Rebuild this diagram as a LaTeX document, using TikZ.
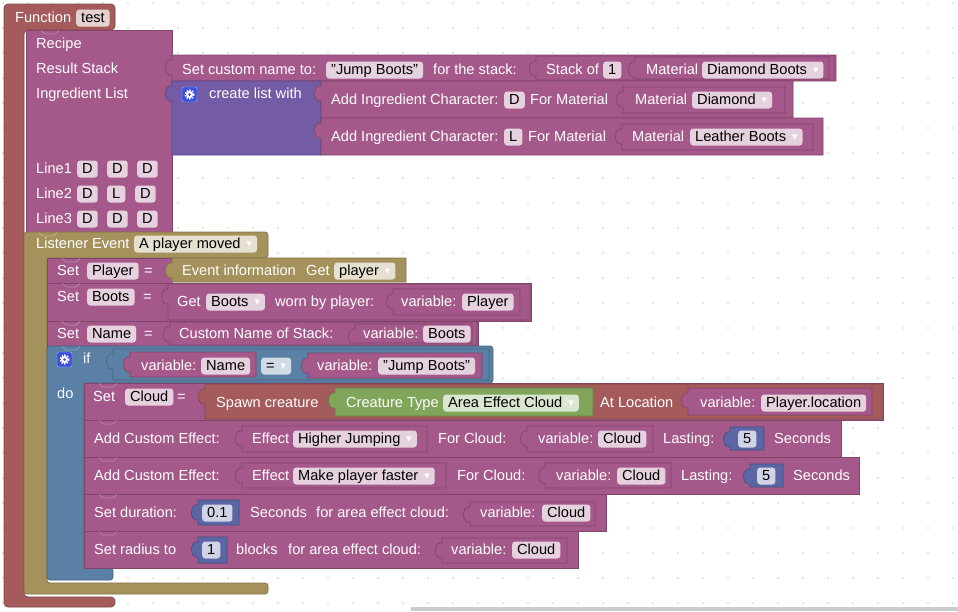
\documentclass[tikz,border=0pt]{standalone}
\usepackage{fontspec}
\setmainfont{Liberation Sans}
\newfontfamily\symfont{DejaVu Sans}
\usetikzlibrary{positioning}

\definecolor{fnred}{RGB}{165,91,91}
\definecolor{pinkc}{RGB}{165,89,138}
\definecolor{listc}{RGB}{116,91,165}
\definecolor{olivec}{RGB}{165,145,91}
\definecolor{bluec}{RGB}{91,128,165}
\definecolor{numc}{RGB}{91,103,165}
\definecolor{greenc}{RGB}{128,165,91}
\definecolor{gearc}{RGB}{60,80,220}
\definecolor{dotc}{RGB}{205,205,205}
\definecolor{barc}{RGB}{204,204,204}

\newcommand{\dd}{\hspace{6pt}{\symfont\fontsize{7}{7}\selectfont\color{white}\raisebox{1.5pt}{▼}}\hspace{3pt}}
\newcommand{\sblk}[5]{\filldraw[#1] (#2,#3) rectangle (#4,#5);}
\newcommand{\vblk}[5]{\filldraw[#1] (#2,#3) -- (#4,#3) -- (#4,#5) -- (#2,#5) -- (#2,#3+20) -- (#2-2,#3+20) .. controls (#2-8,#3+19) and (#2-8,#3+6) .. (#2-2,#3+5) -- (#2,#3+5) -- cycle;}
\newcommand{\notch}[3]{\draw[nch=#1] (#2+15,#3+0.5) -- (#2+19,#3+4) -- (#2+29,#3+4) -- (#2+33,#3+0.5);}
\newcommand{\gear}[3]{\filldraw[fill=gearc, draw=white!60!gearc, rounded corners=2pt] (#2,#3) rectangle ++(15,15);
  \coordinate (#1) at (#2+7.5,#3+7.5);
  \draw[white, line width=1.6pt, dash pattern=on 1.4pt off 1.4pt] (#1) circle[radius=4.3];
  \fill[white] (#1) circle[radius=3.6];
  \fill[gearc] (#1) circle[radius=1.5];}

\begin{document}
\begin{tikzpicture}[x=1pt, y=-1pt,
    font=\fontsize{14.6}{17}\selectfont,
    lbl/.style={anchor=base west, inner sep=0pt, text=white},
    fld/.style={anchor=base west, inner xsep=5pt, inner ysep=0pt, text height=12.5pt, text depth=4.5pt, rounded corners=3pt, fill=#1!28!white, text=black},
    blk/.style={fill=#1, draw=#1!78!black, line width=0.7pt},
    nch/.style={draw=#1!72!white, line width=0.7pt}
  ]

  \useasboundingbox (0,0) rectangle (958,611);
  \foreach \i in {0,...,38} \foreach \j in {0,...,24} \fill[dotc] (3+25*\i,3+25*\j) circle[radius=0.9];
  \fill[barc] (411,607) rectangle (958,611);

  \filldraw[blk=fnred, rounded corners=4pt] (4,4) -- (115,4) -- (115,30) -- (24,30) -- (24,597) -- (115,597) -- (115,607) -- (4,607) -- cycle;
  \node[lbl] (fn) at (15,22) {Function};
  \node[fld=fnred] (fnname) at (76,22) {test};

  \sblk{blk=pinkc}{26}{30}{172}{232}
  \notch{pinkc}{26}{30}
  \node[lbl] (rcp) at (36,48) {Recipe};
  \node[lbl] (rstack) at (36,73) {Result Stack};
  \node[lbl] (ilist) at (36,98) {Ingredient List};
  \node[lbl] (ln1) at (36,173) {Line1};
  \node[fld=pinkc] (ln1a) at (77,173) {D};
  \node[fld=pinkc] (ln1b) at (107,173) {D};
  \node[fld=pinkc] (ln1c) at (137,173) {D};
  \node[lbl] (ln2) at (36,198) {Line2};
  \node[fld=pinkc] (ln2a) at (77,198) {D};
  \node[fld=pinkc] (ln2b) at (107,198) {L};
  \node[fld=pinkc] (ln2c) at (135,198) {D};
  \node[lbl] (ln3) at (36,223) {Line3};
  \node[fld=pinkc] (ln3a) at (77,223) {D};
  \node[fld=pinkc] (ln3b) at (107,223) {D};
  \node[fld=pinkc] (ln3c) at (137,223) {D};

  \vblk{blk=pinkc}{172}{55}{836}{81}
  \node[lbl] (scn) at (182,74) {Set custom name to:};
  \node[fld=pinkc] (jb1) at (326,74) {"Jump Boots"};
  \node[lbl] (fts) at (433,74) {for the stack:};
  \vblk{blk=pinkc}{536}{56}{834}{80}
  \node[lbl] (sof) at (546,74) {Stack of};
  \node[fld=pinkc] (amt) at (603,74) {1};
  \vblk{blk=pinkc}{635}{57}{829}{79}
  \node[lbl] (mat1) at (646,74) {Material};
  \node[fld=pinkc] (dboots) at (702,74) {Diamond Boots\dd};

  \vblk{blk=listc}{172}{81}{321}{155}
  \gear{g1}{182}{87}
  \node[lbl] (cl) at (209,98) {create list with};

  \vblk{blk=pinkc}{321}{81}{793}{118}
  \node[lbl] (ai1) at (331,104) {Add Ingredient Character:};
  \node[fld=pinkc] (ch1) at (504,104) {D};
  \node[lbl] (fm1) at (530,104) {For Material};
  \vblk{blk=pinkc}{623}{87}{785}{113}
  \node[lbl] (mat2) at (635,104) {Material};
  \node[fld=pinkc] (dia) at (692,104) {Diamond\dd};

  \vblk{blk=pinkc}{321}{118}{823}{155}
  \node[lbl] (ai2) at (331,141) {Add Ingredient Character:};
  \node[fld=pinkc] (ch2) at (504,141) {L};
  \node[lbl] (fm2) at (528,141) {For Material};
  \vblk{blk=pinkc}{622}{124}{813}{150}
  \node[lbl] (mat3) at (632,141) {Material};
  \node[fld=pinkc] (lboots) at (690,141) {Leather Boots\dd};

  \filldraw[blk=olivec, rounded corners=3pt] (24,232) -- (268,232) -- (268,258) -- (47,258) -- (47,583) -- (268,583) -- (268,594) -- (24,594) -- cycle;
  \notch{olivec}{24}{232}
  \node[lbl] (lev) at (36,248) {Listener Event};
  \node[fld=olivec] (pm) at (134,248) {A player moved\dd};

  \sblk{blk=pinkc}{47}{258}{172}{283}
  \notch{pinkc}{47}{258}
  \node[lbl] (set1) at (57,275) {Set};
  \node[fld=pinkc] (vplayer) at (87,275) {Player};
  \node[lbl] (eq1) at (144,275) {=};
  \vblk{blk=olivec}{172}{258}{406}{282}
  \node[lbl] (evi) at (182,275) {Event information};
  \node[lbl] (get1) at (306,275) {Get};
  \node[fld=olivec] (gplayer) at (334,275) {player\dd};

  \sblk{blk=pinkc}{47}{283}{531}{321}
  \notch{pinkc}{47}{283}
  \node[lbl] (set2) at (57,301) {Set};
  \node[fld=pinkc] (vboots) at (87,301) {Boots};
  \node[lbl] (eq2) at (143,301) {=};
  \vblk{blk=pinkc}{168}{284}{530}{320}
  \node[lbl] (get2) at (177,306) {Get};
  \node[fld=pinkc] (gboots) at (206,306) {Boots\dd};
  \node[lbl] (worn) at (275,306) {worn by player:};
  \vblk{blk=pinkc}{393}{289}{520}{315}
  \node[lbl] (var1) at (401,306) {variable:};
  \node[fld=pinkc] (var1f) at (462,306) {Player};

  \sblk{blk=pinkc}{47}{321}{478}{346}
  \notch{pinkc}{47}{321}
  \node[lbl] (set3) at (57,338) {Set};
  \node[fld=pinkc] (vname) at (87,338) {Name};
  \node[lbl] (eq3) at (144,338) {=};
  \vblk{blk=pinkc}{170}{322}{477}{345}
  \node[lbl] (cns) at (179,338) {Custom Name of Stack:};
  \vblk{blk=pinkc}{355}{324}{472}{343}
  \node[lbl] (var2) at (363,338) {variable:};
  \node[fld=pinkc] (var2f) at (423,338) {Boots};

  \filldraw[blk=bluec, rounded corners=3pt] (47,346) -- (493,346) -- (493,383) -- (84,383) -- (84,568) -- (113,568) -- (113,580) -- (47,580) -- cycle;
  \notch{bluec}{47}{346}
  \gear{g2}{57}{352}
  \node[lbl] (iff) at (83,363) {if};
  \vblk{blk=bluec}{113}{349}{489}{380}
  \vblk{blk=pinkc}{130}{352}{256}{377}
  \node[lbl] (var3) at (141,370) {variable:};
  \node[fld=pinkc] (var3f) at (201,370) {Name};
  \node[fld=bluec] (cmp) at (261,370) {=\dd};
  \vblk{blk=pinkc}{308}{353}{482}{378}
  \node[lbl] (var4) at (317,370) {variable:};
  \node[fld=pinkc] (var4f) at (378,370) {"Jump Boots"};
  \node[lbl] (do) at (57,398) {do};

  \sblk{blk=pinkc}{84}{383}{883}{420}
  \notch{pinkc}{84}{383}
  \node[lbl] (set4) at (93,401) {Set};
  \node[fld=pinkc] (vcloud) at (125,401) {Cloud};
  \node[lbl] (eq4) at (177,401) {=};
  \vblk{blk=fnred}{205}{384}{883}{419}
  \node[lbl] (spawn) at (216,407) {Spawn creature};
  \vblk{blk=greenc}{335}{388}{593}{416}
  \node[lbl] (ctype) at (346,407) {Creature Type};
  \node[fld=greenc] (aec) at (443,407) {Area Effect Cloud\dd};
  \node[lbl] (atloc) at (600,407) {At Location};
  \vblk{blk=pinkc}{688}{388}{872}{415}
  \node[lbl] (var5) at (700,407) {variable:};
  \node[fld=pinkc] (var5f) at (761,407) {Player.location};

  \sblk{blk=pinkc}{84}{420}{841}{457}
  \notch{pinkc}{84}{420}
  \node[lbl] (ace1) at (94,443) {Add Custom Effect:};
  \vblk{blk=pinkc}{242}{426}{427}{452}
  \node[lbl] (eff1) at (252,443) {Effect};
  \node[fld=pinkc] (eff1f) at (293,443) {Higher Jumping\dd};
  \node[lbl] (fc1) at (438,443) {For Cloud:};
  \vblk{blk=pinkc}{527}{426}{653}{452}
  \node[lbl] (var6) at (538,443) {variable:};
  \node[fld=pinkc] (var6f) at (598,443) {Cloud};
  \node[lbl] (last1) at (663,443) {Lasting:};
  \vblk{blk=numc}{730}{427}{764}{450}
  \node[fld=numc] (num1) at (738,443) {5};
  \node[lbl] (sec1) at (774,443) {Seconds};

  \sblk{blk=pinkc}{84}{457}{859}{494}
  \notch{pinkc}{84}{457}
  \node[lbl] (ace2) at (94,480) {Add Custom Effect:};
  \vblk{blk=pinkc}{242}{463}{446}{488}
  \node[lbl] (eff2) at (252,480) {Effect};
  \node[fld=pinkc] (eff2f) at (293,480) {Make player faster\dd};
  \node[lbl] (fc2) at (457,480) {For Cloud:};
  \vblk{blk=pinkc}{545}{463}{671}{488}
  \node[lbl] (var7) at (556,480) {variable:};
  \node[fld=pinkc] (var7f) at (617,480) {Cloud};
  \node[lbl] (last2) at (681,480) {Lasting:};
  \vblk{blk=numc}{750}{464}{783}{487}
  \node[fld=numc] (num2) at (757,480) {5};
  \node[lbl] (sec2) at (793,480) {Seconds};

  \sblk{blk=pinkc}{84}{494}{606}{531}
  \notch{pinkc}{84}{494}
  \node[lbl] (sdur) at (94,517) {Set duration:};
  \vblk{blk=numc}{198}{500}{239}{525}
  \node[fld=numc] (num3) at (202,517) {0.1};
  \node[lbl] (sec3) at (250,517) {Seconds};
  \node[lbl] (fae1) at (316,517) {for area effect cloud:};
  \vblk{blk=pinkc}{470}{502}{595}{526}
  \node[lbl] (var8) at (480,517) {variable:};
  \node[fld=pinkc] (var8f) at (542,517) {Cloud};

  \sblk{blk=pinkc}{84}{531}{578}{568}
  \notch{pinkc}{84}{531}
  \node[lbl] (srad) at (94,554) {Set radius to};
  \vblk{blk=numc}{198}{537}{227}{563}
  \node[fld=numc] (num4) at (202,554) {1};
  \node[lbl] (blks) at (236,554) {blocks};
  \node[lbl] (fae2) at (288,554) {for area effect cloud:};
  \vblk{blk=pinkc}{442}{538}{567}{563}
  \node[lbl] (var9) at (451,554) {variable:};
  \node[fld=pinkc] (var9f) at (512,554) {Cloud};

\end{tikzpicture}
\end{document}
